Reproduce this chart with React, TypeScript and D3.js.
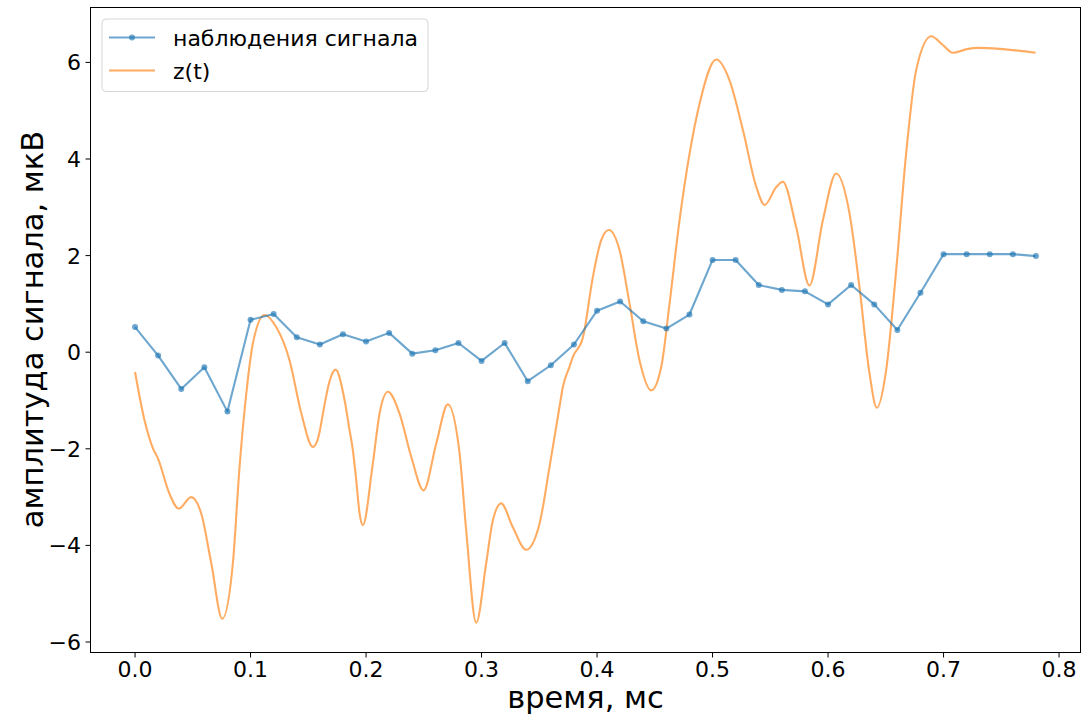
import React from 'react';
import * as d3 from 'd3';

// Observations (blue, with markers) and the smooth z(t) curve (orange).

const OBS_T = [
  0.0, 0.02, 0.04, 0.06, 0.08, 0.1, 0.12, 0.14, 0.16, 0.18,
  0.2, 0.22, 0.24, 0.26, 0.28, 0.3, 0.32, 0.34, 0.36, 0.38,
  0.4, 0.42, 0.44, 0.46, 0.48, 0.5, 0.52, 0.54, 0.56, 0.58,
  0.6, 0.62, 0.64, 0.66, 0.68, 0.7, 0.72, 0.74, 0.76, 0.78,
];
const OBS_V = [
  0.52, -0.07, -0.76, -0.31, -1.23, 0.67, 0.79, 0.31, 0.16, 0.37,
  0.22, 0.4, -0.03, 0.04, 0.19, -0.18, 0.19, -0.6, -0.27, 0.16,
  0.86, 1.05, 0.64, 0.49, 0.78, 1.91, 1.91, 1.39, 1.29, 1.26,
  0.99, 1.39, 0.99, 0.46, 1.23, 2.03, 2.03, 2.03, 2.03, 1.99,
];

const Z_T = [
  0, 0.0082, 0.0155, 0.0198, 0.0298, 0.0379, 0.0486, 0.0573, 0.066, 0.0755,
  0.0847, 0.0905, 0.0963, 0.102, 0.1121, 0.1222, 0.1338, 0.144, 0.154, 0.1598,
  0.1626, 0.1684, 0.1736, 0.1814, 0.1857, 0.1886, 0.1915, 0.1944, 0.1972, 0.2059,
  0.2117, 0.2189, 0.229, 0.2392, 0.2498, 0.2608, 0.2708, 0.281, 0.2867, 0.2954,
  0.304, 0.3098, 0.317, 0.327, 0.3386, 0.3502, 0.3589, 0.3675, 0.3704, 0.3762,
  0.379, 0.3877, 0.3964, 0.4036, 0.4102, 0.4195, 0.4281, 0.4368, 0.4469, 0.4556,
  0.4628, 0.4714, 0.4801, 0.4888, 0.5032, 0.5147, 0.5263, 0.5379, 0.5451, 0.5552,
  0.5608, 0.5724, 0.5839, 0.5955, 0.607, 0.6186, 0.6272, 0.6359, 0.6422, 0.6503,
  0.659, 0.6676, 0.6763, 0.6893, 0.6994, 0.7081, 0.7196, 0.7297, 0.7485, 0.7797,
];
const Z_V = [
  -0.41, -1.41, -1.99, -2.2, -2.93, -3.24, -3.0, -3.34, -4.37, -5.52,
  -4.37, -2.37, -0.86, 0.18, 0.77, 0.52, -0.17, -1.27, -1.96, -1.65,
  -1.28, -0.6, -0.36, -0.99, -1.61, -2.03, -2.65, -3.34, -3.58, -2.3,
  -1.27, -0.82, -1.27, -2.17, -2.86, -1.89, -1.08, -2.1, -3.69, -5.6,
  -4.37, -3.48, -3.13, -3.62, -4.09, -3.55, -2.37, -1.13, -0.72, -0.3,
  -0.1, 0.3, 1.56, 2.32, 2.53, 2.11, 1.01, -0.17, -0.79, -0.3,
  1.01, 2.73, 4.11, 5.15, 6.06, 5.63, 4.6, 3.42, 3.05, 3.42,
  3.53, 2.59, 1.38, 2.73, 3.7, 2.87, 1.35, -0.44, -1.15, -0.37,
  1.7, 4.11, 5.84, 6.54, 6.36, 6.2, 6.27, 6.3, 6.28, 6.2,
];

const X_TICKS = [0, 0.1, 0.2, 0.3, 0.4, 0.5, 0.6, 0.7, 0.8];
const X_TICK_LABELS = ['0.0', '0.1', '0.2', '0.3', '0.4', '0.5', '0.6', '0.7', '0.8'];
const Y_TICKS = [-6, -4, -2, 0, 2, 4, 6];
const Y_TICK_LABELS = ['\u22126', '\u22124', '\u22122', '0', '2', '4', '6'];

const SERIES_NAMES = ['наблюдения сигнала', 'z(t)'];
const X_LABEL = 'время, мс';
const Y_LABEL = 'амплитуда сигнала, мкВ';

const W = 1082;
const H = 721;
const LEFT = 90;
const RIGHT = 1081;
const TOP = 7;
const BOTTOM = 652;
const FONT = "'DejaVu Sans', sans-serif";
const BLUE = '#1f77b4';
const ORANGE = '#ff7f0e';
const ALPHA = 0.65;

function padded([lo, hi]: [number, number]): [number, number] {
  const m = (hi - lo) * 0.05;
  return [lo - m, hi + m];
}

export default function App() {
  const x = d3
    .scaleLinear()
    .domain(padded(d3.extent(OBS_T) as [number, number]))
    .range([LEFT, RIGHT]);
  const y = d3
    .scaleLinear()
    .domain(padded(d3.extent([...OBS_V, ...Z_V]) as [number, number]))
    .range([BOTTOM, TOP]);

  const obsPath = d3
    .line<number>()
    .x((_, i) => x(OBS_T[i]))
    .y((d) => y(d))(OBS_V) ?? '';
  const zPath = d3
    .line<number>()
    .x((_, i) => x(Z_T[i]))
    .y((d) => y(d))
    .curve(d3.curveMonotoneX)(Z_V) ?? '';

  const midX = (LEFT + RIGHT) / 2;
  const midY = (TOP + BOTTOM) / 2;

  return (
    <svg
      width={W}
      height={H}
      viewBox={`0 0 ${W} ${H}`}
      style={{ position: 'absolute', left: 0, top: 0, background: '#fff' }}
      fontFamily={FONT}
    >
      <rect x={0} y={0} width={W} height={H} fill="#fff" />

      {/* curves */}
      <path d={zPath} fill="none" stroke={ORANGE} strokeWidth={2.1} strokeOpacity={ALPHA} />
      <path d={obsPath} fill="none" stroke={BLUE} strokeWidth={2.1} strokeOpacity={ALPHA} strokeLinejoin="round" />
      {OBS_V.map((v, i) => (
        <circle key={`m-${i}`} cx={x(OBS_T[i])} cy={y(v)} r={3} fill={BLUE} fillOpacity={ALPHA} />
      ))}

      {/* spines */}
      <rect
        x={LEFT + 0.5}
        y={TOP + 0.5}
        width={RIGHT - LEFT - 1}
        height={BOTTOM - TOP}
        fill="none"
        stroke="#000"
        strokeWidth={1}
      />

      {/* x ticks */}
      {X_TICKS.map((t, i) => (
        <g key={`xt-${i}`}>
          <line x1={x(t)} x2={x(t)} y1={BOTTOM + 0.5} y2={BOTTOM + 5.5} stroke="#000" strokeWidth={1} />
          <text x={x(t)} y={677} textAnchor="middle" fontSize={22} fill="#000">
            {X_TICK_LABELS[i]}
          </text>
        </g>
      ))}

      {/* y ticks */}
      {Y_TICKS.map((t, i) => (
        <g key={`yt-${i}`}>
          <line x1={LEFT - 4.5} x2={LEFT + 0.5} y1={y(t)} y2={y(t)} stroke="#000" strokeWidth={1} />
          <text x={LEFT - 9} y={y(t)} dy="0.36em" textAnchor="end" fontSize={22} fill="#000">
            {Y_TICK_LABELS[i]}
          </text>
        </g>
      ))}

      {/* axis labels */}
      <text x={midX} y={708} textAnchor="middle" fontSize={30.5} fill="#000">
        {X_LABEL}
      </text>
      <text
        x={0}
        y={0}
        transform={`translate(43, ${midY}) rotate(-90)`}
        textAnchor="middle"
        fontSize={30.5}
        fill="#000"
      >
        {Y_LABEL}
      </text>

      {/* legend */}
      <g>
        <rect x={102} y={19} width={326} height={72.5} rx={4} fill="#fff" fillOpacity={0.8} stroke="#d6d6d6" strokeWidth={1} />
        <line x1={109} x2={155} y1={37.5} y2={37.5} stroke={BLUE} strokeWidth={2.1} strokeOpacity={ALPHA} />
        <circle cx={132} cy={37.5} r={3} fill={BLUE} fillOpacity={ALPHA} />
        <text x={173} y={45.5} fontSize={22} fill="#000">
          {SERIES_NAMES[0]}
        </text>
        <line x1={109} x2={155} y1={70.5} y2={70.5} stroke={ORANGE} strokeWidth={2.1} strokeOpacity={ALPHA} />
        <text x={173} y={78.5} fontSize={22} fill="#000">
          {SERIES_NAMES[1]}
        </text>
      </g>
    </svg>
  );
}
